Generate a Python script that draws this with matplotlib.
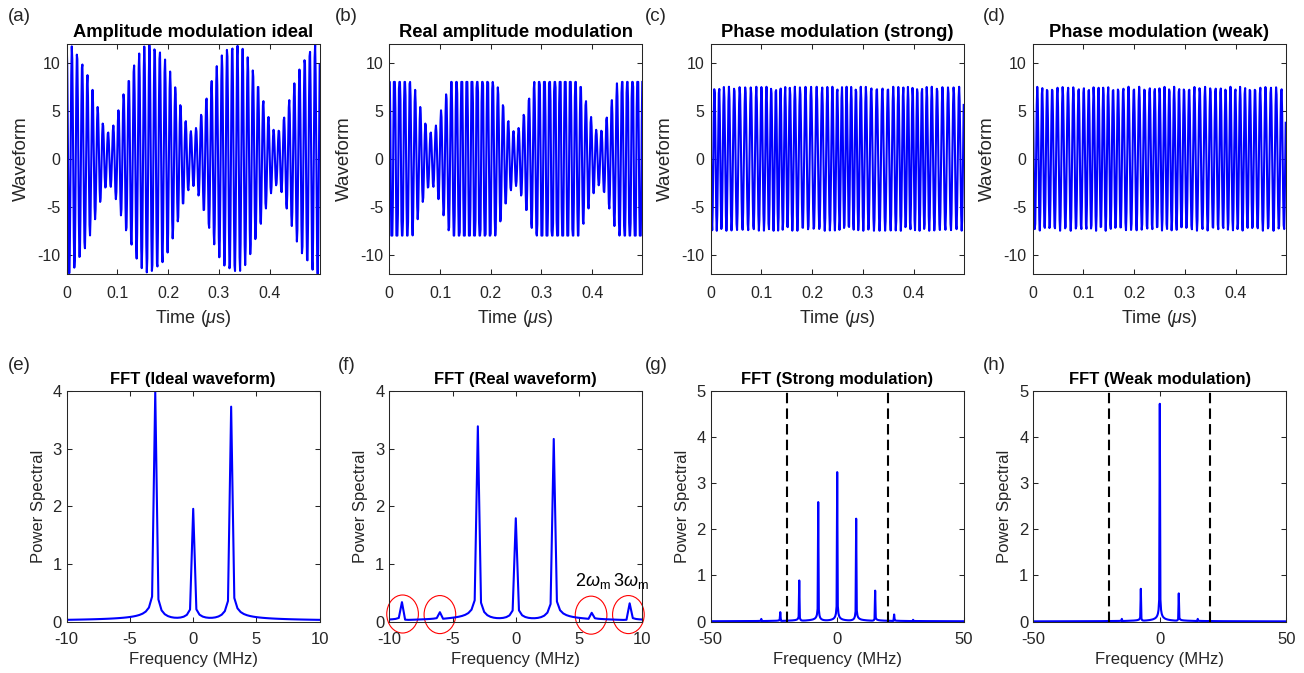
import numpy as np
import matplotlib
matplotlib.use("Agg")
import matplotlib.pyplot as plt
from matplotlib.patches import Ellipse

plt.rcParams['font.family'] = ['Liberation Sans', 'DejaVu Sans']
plt.rcParams['mathtext.fontset'] = 'custom'
plt.rcParams['mathtext.rm'] = 'Liberation Sans'
plt.rcParams['mathtext.it'] = 'Liberation Sans:italic'
plt.rcParams['axes.unicode_minus'] = False

# ---- waveform parameters ----
dt = 0.001            # sample step (us)
n_samples = 500
f_carrier = 98.0      # MHz, ~49 cycles in 0.5 us
f_env = 6.05          # envelope repetition (MHz)
env_max = 12.0        # envelope top in (a)
env_min = 2.8         # envelope bottom in (a)
clip_level = 8.0      # flat top in (b)
pm_amp = 7.5          # amplitude in (c), (d)
pm_fc = 100.0
pm_fm = 7.5
beta_strong = 1.3
beta_weak = 0.7
phase0_strong = 1.2
phase0_weak = 0.28

# ---- spectral peaks ----
ideal_freq = [-3, 0, 3]
ideal_height = [3.97, 1.92, 3.71]
real_freq = [-9, -6, -3, 0, 3, 6, 9]
real_height = [0.32, 0.13, 3.37, 1.76, 3.15, 0.12, 0.30]
strong_freq = [-30, -22.5, -15, -7.5, 0, 7.5, 15, 22.5, 30]
strong_height = [0.05, 0.195, 0.88, 2.58, 3.23, 2.22, 0.66, 0.145, 0.03]
weak_freq = [-15, -7.5, 0, 7.5, 15]
weak_height = [0.05, 0.70, 4.72, 0.60, 0.05]
circle_x = [-8.95, -6.0, 5.95, 8.9]
circle_y = [0.13, 0.12, 0.11, 0.12]
harm_labels = ['2$\\omega_{\\rm m}$', '3$\\omega_{\\rm m}$']
harm_x = [6.1, 9.1]
band_edges = [-20, 20]

titles_top = ['Amplitude modulation ideal', 'Real amplitude modulation',
              'Phase modulation (strong)', 'Phase modulation (weak)']
titles_bot = ['FFT (Ideal waveform)', 'FFT (Real waveform)',
              'FFT (Strong modulation)', 'FFT (Weak modulation)']

# build waveforms
t = np.arange(n_samples) * dt
ph = np.pi * f_env * t
env = np.sqrt((env_max * np.cos(ph)) ** 2 + (env_min * np.sin(ph)) ** 2)
wave_ideal = env * np.cos(2 * np.pi * f_carrier * t)
wave_real = np.clip(wave_ideal, -clip_level, clip_level)
wave_strong = pm_amp * np.cos(2 * np.pi * pm_fc * t
                              + beta_strong * np.sin(2 * np.pi * pm_fm * t) + phase0_strong)
wave_weak = pm_amp * np.cos(2 * np.pi * pm_fc * t
                            + beta_weak * np.sin(2 * np.pi * pm_fm * t) + phase0_weak)
waves = [wave_ideal, wave_real, wave_strong, wave_weak]


def spectrum(freqs, heights, fmax, df=0.25, w=0.028, phi=np.pi / 3):
    f = np.arange(-fmax, fmax + df / 2, df)
    acc = np.zeros_like(f, dtype=complex)
    for f0, h in zip(freqs, heights):
        d = f - f0
        acc += h * w / (w + np.abs(d)) * np.exp(1j * phi * np.sign(d))
    return f, np.abs(acc)


specs = [spectrum(ideal_freq, ideal_height, 10),
         spectrum(real_freq, real_height, 10),
         spectrum(strong_freq, strong_height, 50),
         spectrum(weak_freq, weak_height, 50)]

W, H = 1304, 673
fig = plt.figure(figsize=(W / 100, H / 100), dpi=100)
lefts_top = [66.7, 389.3, 710.7, 1032.7]
lefts_bot = [66.7, 389.3, 710.7, 1033.3]
aw, ah = 253, 230.5
gray = (0.15, 0.15, 0.15)


def style(ax, fs, xpad, ypad):
    for s in ax.spines.values():
        s.set_color(gray)
        s.set_linewidth(0.75)
    ax.tick_params(direction='in', top=True, right=True, length=3.5,
                   width=0.75, colors=gray, labelsize=fs)
    ax.tick_params(axis='x', pad=xpad)
    ax.tick_params(axis='y', pad=ypad)


for i in range(4):
    ax = fig.add_axes([lefts_top[i] / W, 1 - (43.5 + ah) / H, aw / W, ah / H])
    ax.plot(t, waves[i], color='b', lw=1.5)
    ax.set_xlim(0, t[-1])
    ax.set_ylim(-12, 12)
    ax.set_xticks([0, 0.1, 0.2, 0.3, 0.4])
    ax.set_xticklabels(['0', '0.1', '0.2', '0.3', '0.4'])
    ax.set_yticks([-10, -5, 0, 5, 10])
    style(ax, 11.5, 9, 4.5)
    ax.set_xlabel('Time ($\\mu$s)', fontsize=13, color=gray, labelpad=4.5)
    ax.set_ylabel('Waveform', fontsize=13.5, color=gray, labelpad=5)
    ax.set_title(titles_top[i], fontsize=13.2, fontweight='bold', pad=5)

for i in range(4):
    ax = fig.add_axes([lefts_bot[i] / W, 1 - (391 + ah) / H, aw / W, ah / H])
    f, p = specs[i]
    ax.plot(f, p, color='b', lw=1.5)
    if i < 2:
        ax.set_xlim(-10, 10)
        ax.set_xticks([-10, -5, 0, 5, 10])
        ax.set_ylim(0, 4)
        ax.set_yticks([0, 1, 2, 3, 4])
    else:
        ax.set_xlim(-50, 50)
        ax.set_xticks([-50, 0, 50])
        ax.set_ylim(0, 5)
        ax.set_yticks([0, 1, 2, 3, 4, 5])
        for x in band_edges:
            ax.axvline(x, color='k', lw=1.5, dashes=(5, 2.5))
    style(ax, 12, 7.5, 3.5)
    ax.set_xlabel('Frequency (MHz)', fontsize=12, color=gray, labelpad=4)
    ax.set_ylabel('Power Spectral', fontsize=12, color=gray, labelpad=5)
    ax.set_title(titles_bot[i], fontsize=11.9, fontweight='bold', pad=5)
    if i == 1:
        for cx, cy in zip(circle_x, circle_y):
            ax.add_patch(Ellipse((cx, cy), 2.5, 0.66, fill=False, edgecolor='r',
                                 lw=0.8, clip_on=False))
        for lab, x in zip(harm_labels, harm_x):
            ax.text(x, 0.62, lab, fontsize=13, ha='center', va='baseline', color='k')

labels = ['(a)', '(b)', '(c)', '(d)', '(e)', '(f)', '(g)', '(h)']
lab_x = [8, 335, 645, 983, 8, 338, 645, 983]
lab_y = [8, 8, 8, 8, 357, 357, 357, 357]
for s, x, y in zip(labels, lab_x, lab_y):
    fig.text(x / W, 1 - y / H, s, fontsize=13.5, va='top', ha='left', color=gray)

fig.savefig('out.png', dpi=100)
